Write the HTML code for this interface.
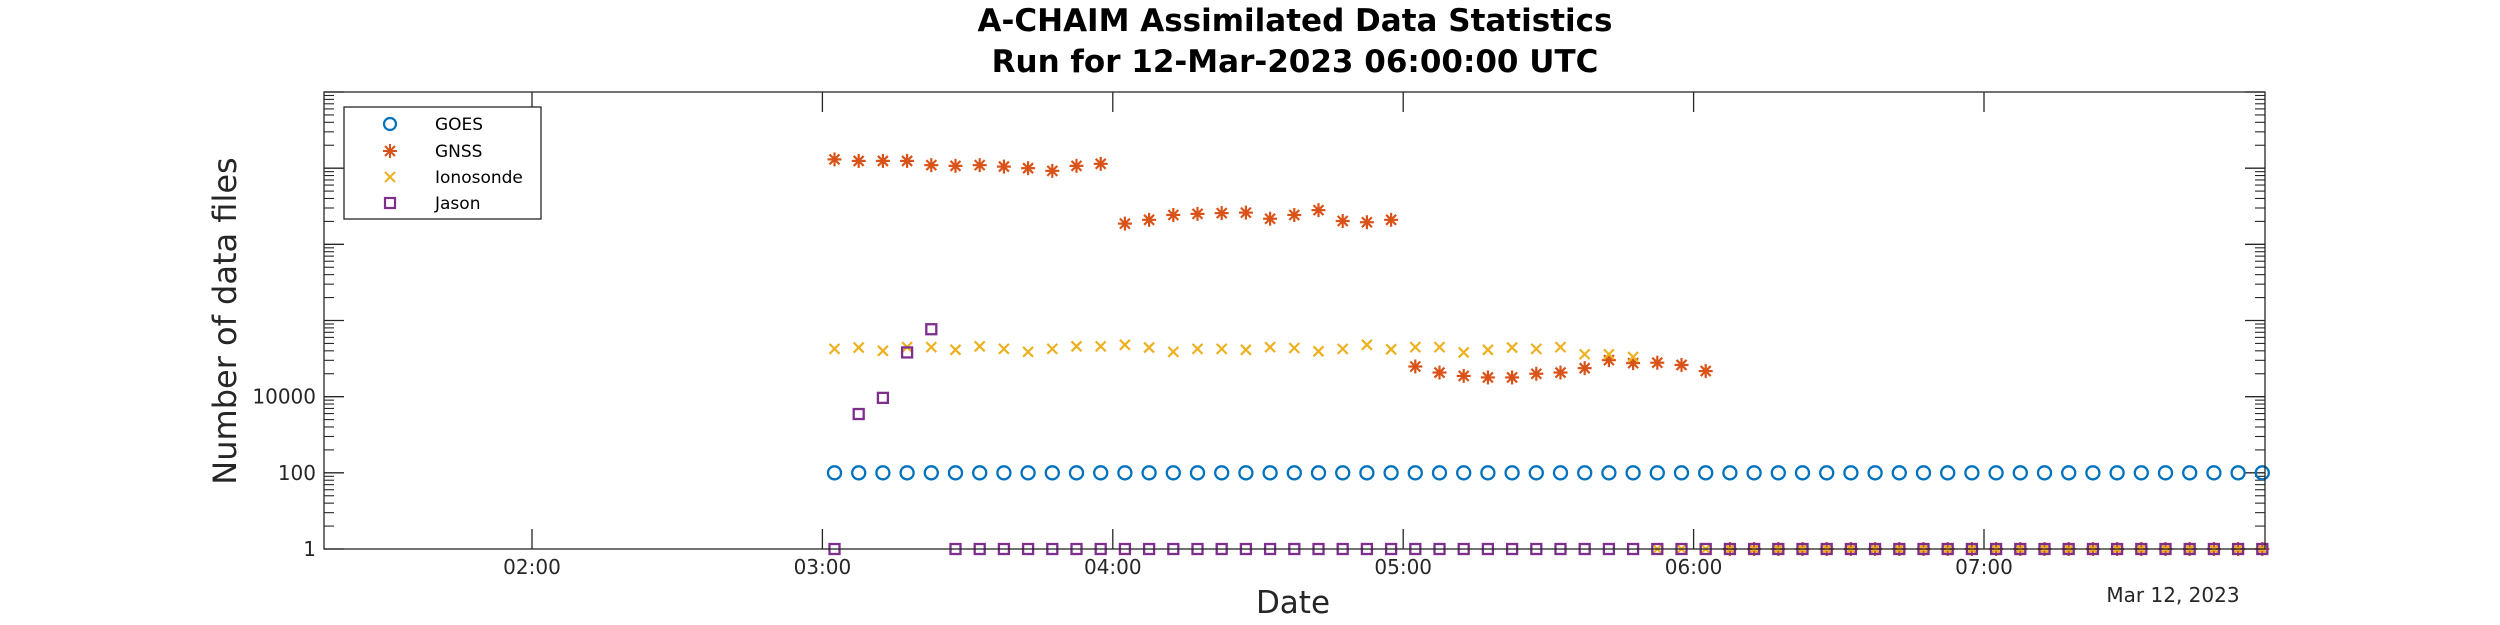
<!DOCTYPE html>
<html><head><meta charset="utf-8"><style>
html,body{margin:0;padding:0;background:#fff}
svg{display:block;font-family:"DejaVu Sans","Liberation Sans",sans-serif}
</style></head><body>
<svg id="chart" width="2500" height="625" viewBox="0 0 2500 625" xmlns="http://www.w3.org/2000/svg">
<rect width="2500" height="625" fill="#fff"/>
<text x="1295" y="31" text-anchor="middle" font-size="31" font-weight="bold" fill="#000">A-CHAIM Assimilated Data Statistics</text>
<text x="1295" y="72" text-anchor="middle" font-size="31" font-weight="bold" fill="#000">Run for 12-Mar-2023 06:00:00 UTC</text>
<g id="ticks"></g>
<g id="marks"></g>
<rect x="324" y="92" width="1941" height="457" fill="none" stroke="#262626" stroke-width="1.3"/>
<text x="1293" y="613" text-anchor="middle" font-size="31" fill="#262626">Date</text>
<text x="2173" y="602" text-anchor="middle" font-size="20" fill="#262626">Mar 12, 2023</text>
<text transform="translate(236,321) rotate(-90)" text-anchor="middle" font-size="32" fill="#262626">Number of data files</text>
<g>
<rect x="344" y="107" width="197" height="112" fill="#fff" stroke="#262626" stroke-width="1.3"/>
<circle cx="390" cy="124" r="6" fill="none" stroke="#0072BD" stroke-width="2.2"/>
<text x="435" y="130" font-size="17" fill="#000">GOES</text>
<g stroke="#D95319" stroke-width="2"><line x1="383" y1="151" x2="397" y2="151"/><line x1="390" y1="144" x2="390" y2="158"/><line x1="385" y1="146" x2="395" y2="156"/><line x1="385" y1="156" x2="395" y2="146"/></g>
<text x="435" y="157" font-size="17" fill="#000">GNSS</text>
<g stroke="#EDB120" stroke-width="2"><line x1="385" y1="172" x2="395" y2="182"/><line x1="385" y1="182" x2="395" y2="172"/></g>
<text x="435" y="183" font-size="17" fill="#000">Ionosonde</text>
<rect x="385" y="198" width="10" height="10" fill="none" stroke="#7E2F8E" stroke-width="2.2"/>
<text x="435" y="209" font-size="17" fill="#000">Jason</text>
</g>
</svg>
<script>
const times = ["03:02:30","03:07:30","03:12:30","03:17:30","03:22:30","03:27:30","03:32:30","03:37:30","03:42:30","03:47:30","03:52:30","03:57:30",
"04:02:30","04:07:30","04:12:30","04:17:30","04:22:30","04:27:30","04:32:30","04:37:30","04:42:30","04:47:30","04:52:30","04:57:30",
"05:02:30","05:07:30","05:12:30","05:17:30","05:22:30","05:27:30","05:32:30","05:37:30","05:42:30","05:47:30","05:52:30","05:57:30",
"06:02:30","06:07:30","06:12:30","06:17:30","06:22:30","06:27:30","06:32:30","06:37:30","06:42:30","06:47:30","06:52:30","06:57:30",
"07:02:30","07:07:30","07:12:30","07:17:30","07:22:30","07:27:30","07:32:30","07:37:30","07:42:30","07:47:30","07:52:30","07:57:30"];
const goes = [100,100,100,100,100,100,100,100,100,100,100,100,100,100,100,100,100,100,100,100,100,100,100,100,100,100,100,100,100,100,
100,100,100,100,100,100,100,100,100,100,100,100,100,100,100,100,100,100,100,100,100,100,100,100,100,100,100,100,100,100];
const gnss = [1.7e10,1.55e10,1.55e10,1.55e10,1.2e10,1.15e10,1.2e10,1.1e10,1.0e10,8.5e9,1.15e10,1.3e10,
3.5e8,4.4e8,5.9e8,6.3e8,6.6e8,6.8e8,4.7e8,5.9e8,7.9e8,4.1e8,3.8e8,4.4e8,
6.2e4,4.3e4,3.5e4,3.2e4,3.2e4,4.0e4,4.3e4,5.6e4,9.1e4,7.6e4,7.8e4,6.8e4,4.7e4,
1,1,1,1,1,1,1,1,1,1,1,1,1,1,1,1,1,1,1,1,1,1,1];
const ionosonde = [1.8e5,1.95e5,1.6e5,2.0e5,2.0e5,1.7e5,2.1e5,1.8e5,1.5e5,1.8e5,2.1e5,2.1e5,2.3e5,1.95e5,1.5e5,1.8e5,1.8e5,1.7e5,2.0e5,1.9e5,1.55e5,1.8e5,2.3e5,1.75e5,2.0e5,2.0e5,
1.45e5,1.7e5,1.95e5,1.8e5,2.0e5,1.3e5,1.3e5,1.1e5,
1,1,1,1,1,1,1,1,1,1,1,1,1,1,1,1,1,1,1,1,1,1,1,1,1,1];
const jason = [1,3500,9300,1.45e5,5.9e5,1,1,1,1,1,1,1,1,1,1,1,1,1,1,1,1,1,1,1,1,1,1,1,1,1,
1,1,1,1,1,1,1,1,1,1,1,1,1,1,1,1,1,1,1,1,1,1,1,1,1,1,1,1,1,1];
const xTickLabels = ["02:00","03:00","04:00","05:00","06:00","07:00"];
const yTickLabels = ["1","100","10000"];

const NS='http://www.w3.org/2000/svg';
const L=324,R=2265,T=92,B=549;
function hrs(s){const p=s.split(':').map(Number);return p[0]+p[1]/60+(p[2]||0)/3600;}
const H_PX=290.4, H0=2, X0=532;
function xs(t){return X0+(hrs(t)-H0)*H_PX;}
function ys(v){return B-Math.log10(v)*(B-T)/12;}
function mk(tag,attrs,parent){const e=document.createElementNS(NS,tag);for(const k in attrs)e.setAttribute(k,attrs[k]);parent.appendChild(e);return e;}

const tk=document.getElementById('ticks');
// x ticks
xTickLabels.forEach(lab=>{
  const x=xs(lab);
  const g=mk('g',{},tk);
  
  
  mk('line',{x1:x,y1:B,x2:x,y2:B-20,stroke:'#262626','stroke-width':1.3},g);
  mk('line',{x1:x,y1:T,x2:x,y2:T+20,stroke:'#262626','stroke-width':1.3},g);
  const t=mk('text',{x:x,y:574,'text-anchor':'middle','font-size':20,fill:'#262626'},g);
  t.textContent=lab;
});
// y ticks (major every 2 decades, minor inside)
for(let e=0;e<=12;e+=2){
  const y=ys(Math.pow(10,e));
  const g=mk('g',{},tk);
  
  
  mk('line',{x1:L,y1:y,x2:L+20,y2:y,stroke:'#262626','stroke-width':1.3},g);
  mk('line',{x1:R,y1:y,x2:R-20,y2:y,stroke:'#262626','stroke-width':1.3},g);
  if(e<12){for(let m=2;m<=9;m++){const yy=ys(Math.pow(10,e)*m*m);
    mk('line',{x1:L,y1:yy,x2:L+10,y2:yy,stroke:'#262626','stroke-width':1.1},g);
    mk('line',{x1:R,y1:yy,x2:R-10,y2:yy,stroke:'#262626','stroke-width':1.1},g);}}
}
yTickLabels.forEach(lab=>{
  const t=mk('text',{x:316,y:ys(Number(lab))+7,'text-anchor':'end','font-size':20,fill:'#262626'},tk);
  
  
  t.textContent=lab;
});

const mg=document.getElementById('marks');
function series(name){const g=mk('g',{},mg);return g;}
const gG=series('goes');
goes.forEach((v,i)=>{if(v==null)return;
  const c=mk('circle',{cx:xs(times[i]),cy:ys(v),r:6.5,fill:'none',stroke:'#0072BD','stroke-width':2.3},gG);
  
  
});
const gN=series('gnss');
gnss.forEach((v,i)=>{if(v==null)return;
  const x=xs(times[i]),y=ys(v);
  const g=mk('g',{stroke:'#D95319','stroke-width':2.2},gN);
  
  
  mk('line',{x1:x-7,y1:y,x2:x+7,y2:y},g);mk('line',{x1:x,y1:y-7,x2:x,y2:y+7},g);
  mk('line',{x1:x-5,y1:y-5,x2:x+5,y2:y+5},g);mk('line',{x1:x-5,y1:y+5,x2:x+5,y2:y-5},g);
});
const gI=series('ionosonde');
ionosonde.forEach((v,i)=>{if(v==null)return;
  const x=xs(times[i]),y=ys(v);
  const g=mk('g',{stroke:'#EDB120','stroke-width':2.2},gI);
  
  
  mk('line',{x1:x-5,y1:y-5,x2:x+5,y2:y+5},g);mk('line',{x1:x-5,y1:y+5,x2:x+5,y2:y-5},g);
});
const gJ=series('jason');
jason.forEach((v,i)=>{if(v==null)return;
  const x=xs(times[i]),y=ys(v);
  const r=mk('rect',{x:x-5,y:y-5,width:10,height:10,fill:'none',stroke:'#7E2F8E','stroke-width':2.3},gJ);
  
  
});
</script>
</body></html>
